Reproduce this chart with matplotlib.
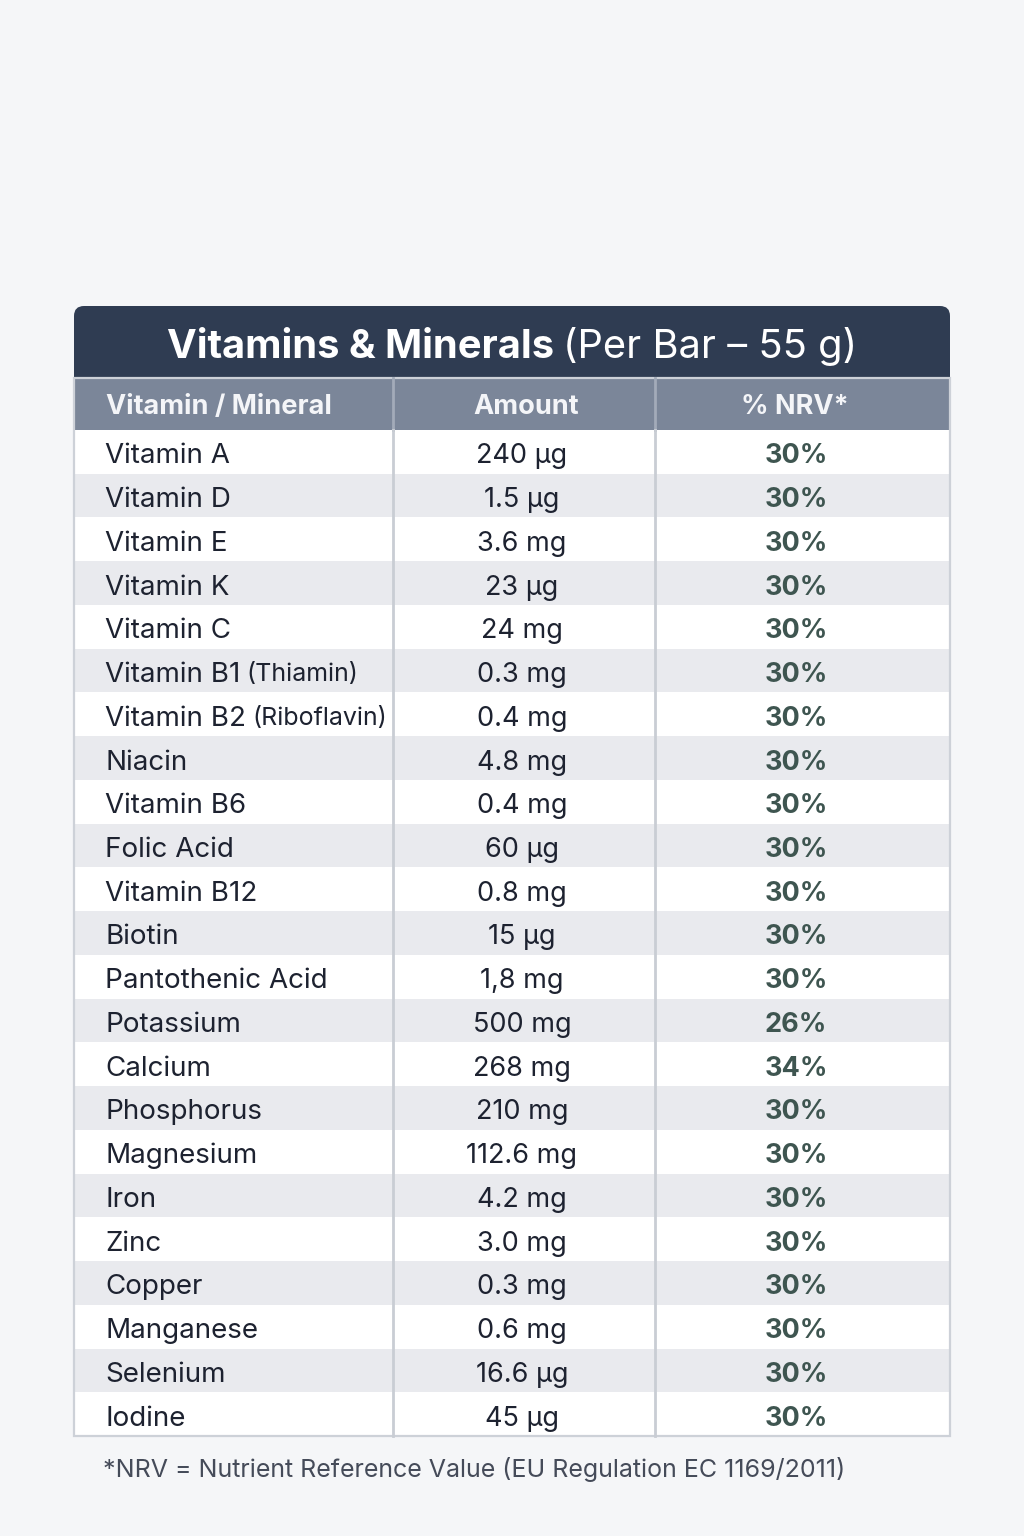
import matplotlib.pyplot as plt
from matplotlib.patches import Rectangle, FancyBboxPatch

plt.rcParams['font.family'] = ['Inter', 'DejaVu Sans']

nutrients = ['Vitamin A', 'Vitamin D', 'Vitamin E', 'Vitamin K', 'Vitamin C',
             'Vitamin B1', 'Vitamin B2', 'Niacin', 'Vitamin B6', 'Folic Acid',
             'Vitamin B12', 'Biotin', 'Pantothenic Acid', 'Potassium', 'Calcium',
             'Phosphorus', 'Magnesium', 'Iron', 'Zinc', 'Copper', 'Manganese',
             'Selenium', 'Iodine']
notes = {'Vitamin B1': '(Thiamin)', 'Vitamin B2': '(Riboflavin)'}
amounts = ['240 µg', '1.5 µg', '3.6 mg', '23 µg', '24 mg', '0.3 mg', '0.4 mg',
           '4.8 mg', '0.4 mg', '60 µg', '0.8 mg', '15 µg', '1,8 mg', '500 mg',
           '268 mg', '210 mg', '112.6 mg', '4.2 mg', '3.0 mg', '0.3 mg',
           '0.6 mg', '16.6 µg', '45 µg']
nrv = [30, 30, 30, 30, 30, 30, 30, 30, 30, 30, 30, 30, 30, 26, 34, 30, 30,
       30, 30, 30, 30, 30, 30]
headers = ['Vitamin / Mineral', 'Amount', '% NRV*']

W, H = 1024, 1536
fig = plt.figure(figsize=(W / 100, H / 100), dpi=100)
fig.patch.set_facecolor('#f5f6f8')
ax = fig.add_axes([0, 0, 1, 1])
ax.set_xlim(0, W)
ax.set_ylim(H, 0)
ax.axis('off')

left, right = 74, 950
col1, col2 = 393, 655
title_top, head_top, body_top, body_bot = 306, 378, 430, 1436
rh = (body_bot - body_top) / len(nutrients)

# title band (rounded top) and header row
ax.add_patch(FancyBboxPatch((left, title_top), right - left, 90,
                            boxstyle='round,pad=0,rounding_size=10',
                            fc='#2f3c52', ec='none', zorder=1))
ax.add_patch(Rectangle((left, head_top), right - left, body_top - head_top,
                       fc='#7b8699', ec='none', zorder=2))

# body rows
for i in range(len(nutrients)):
    y0 = body_top + i * rh
    ax.add_patch(Rectangle((left, y0), right - left, rh,
                           fc='#e9eaee' if i % 2 else '#ffffff', ec='none', zorder=2))

ax.add_patch(Rectangle((left, head_top), right - left, body_bot - head_top,
                       fc='none', ec='#cdd1d8', lw=1.6, zorder=4))
for cx in (col1, col2):
    ax.plot([cx, cx], [head_top, body_top], color='#a3abb9', lw=2, zorder=4)
    ax.plot([cx, cx], [body_top, body_bot], color='#c9cdd4', lw=2, zorder=4)

# title text: bold part + regular part, centred together
t1 = ax.text(0, 343, 'Vitamins & Minerals ', color='white', fontsize=28.7,
             fontweight='bold', va='center_baseline', ha='left', zorder=5)
t2 = ax.text(0, 343, '(Per Bar – 55 g)', color='white', fontsize=28.7,
             va='center_baseline', ha='left', zorder=5)
fig.canvas.draw()
r = fig.canvas.get_renderer()
inv = ax.transData.inverted()
def wdata(t):
    bb = t.get_window_extent(r)
    return inv.transform((bb.x1, 0))[0] - inv.transform((bb.x0, 0))[0]
w1, w2 = wdata(t1), wdata(t2)
x0 = (left + right) / 2 - (w1 + w2) / 2
t1.set_x(x0)
t2.set_x(x0 + w1)

hy = (head_top + body_top) / 2
ax.text(106, hy, headers[0], color='#f4f5f8', fontsize=19.5, fontweight='bold',
        va='center_baseline', ha='left', zorder=5)
ax.text(526, hy, headers[1], color='#f4f5f8', fontsize=19.5, fontweight='bold',
        va='center_baseline', ha='center', zorder=5)
ax.text(795, hy, headers[2], color='#f4f5f8', fontsize=19.5, fontweight='bold',
        va='center_baseline', ha='center', zorder=5)

for i, name in enumerate(nutrients):
    yc = body_top + (i + 0.5) * rh + 1.5
    tn = ax.text(105, yc, name, color='#1d2230', fontsize=20,
                 va='center_baseline', ha='left', zorder=5)
    if name in notes:
        fig.canvas.draw()
        bb = tn.get_window_extent(r)
        xe = inv.transform((bb.x1, 0))[0]
        ax.text(xe + 6, yc, notes[name], color='#1d2230', fontsize=18,
                va='center_baseline', ha='left', zorder=5)
    ax.text(522, yc, amounts[i], color='#1d2230', fontsize=19.5,
            va='center_baseline', ha='center', zorder=5)
    ax.text(796, yc, f'{nrv[i]}%', color='#3e5550', fontsize=19.5,
            fontweight='bold', va='center_baseline', ha='center', zorder=5)

ax.text(103, 1467, '*NRV = Nutrient Reference Value (EU Regulation EC 1169/2011)',
        color='#454b59', fontsize=18, va='center_baseline', ha='left', zorder=5)

fig.savefig('out.png', dpi=100, facecolor=fig.get_facecolor())
